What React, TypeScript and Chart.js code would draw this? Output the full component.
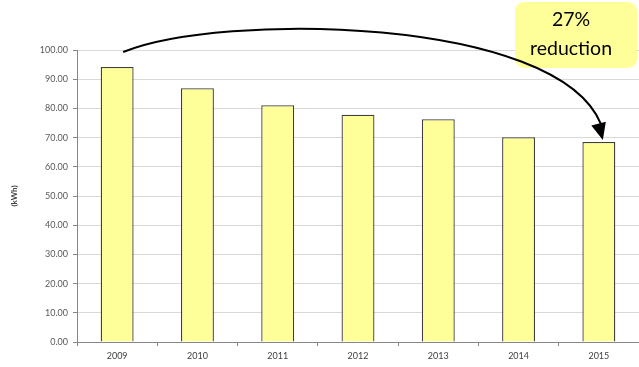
import React, { useEffect, useRef } from "react";
import { Chart, registerables } from "chart.js";

Chart.register(...registerables);

// Annual energy use per year (kWh)
const years = ["2009", "2010", "2011", "2012", "2013", "2014", "2015"];
const consumption = [94.2, 86.9, 81.1, 77.8, 76.3, 70.1, 68.5];
const yMin = 0;
const yMax = 100;
const yStep = 10;
const calloutLines = ["27%", "reduction"];

const FONT = "Lato, 'Open Sans', sans-serif";

// Callout box, then the curved arrow from the first year to the last on top of it
const reductionCallout = {
  id: "reductionCallout",
  afterDraw(chart: any) {
    const ctx = chart.ctx;
    const xs = chart.scales.x;
    const ys = chart.scales.y;
    const last = consumption.length - 1;

    ctx.save();

    // callout box
    const bxl = 515;
    const bxt = 2;
    const bw = 122;
    const bh = 66;
    ctx.fillStyle = "#FFFF99";
    ctx.beginPath();
    (ctx as any).roundRect(bxl, bxt, bw, bh, 9);
    ctx.fill();

    ctx.fillStyle = "#000";
    ctx.font = `19.5px ${FONT}`;
    ctx.textAlign = "center";
    ctx.textBaseline = "middle";
    ctx.fillText(calloutLines[0], 571, 20);
    ctx.fillText(calloutLines[1], 571, 49);

    // curved arrow
    const sx = xs.getPixelForValue(0) + 6;
    const sy = ys.getPixelForValue(99.3);
    const tipX = xs.getPixelForValue(last) + 4;
    const tipY = ys.getPixelForValue(consumption[last]) - 2;
    const headLen = 17;
    const headHalf = 7.5;

    const ex = tipX - 2;
    const ey = tipY - headLen + 1;
    const c1x = sx + 97;
    const c1y = ys.top - 38;
    const c2x = ex - 44;
    const c2y = ys.top - 34;

    ctx.strokeStyle = "#000";
    ctx.fillStyle = "#000";
    ctx.lineWidth = 2;
    ctx.beginPath();
    ctx.moveTo(sx, sy);
    ctx.bezierCurveTo(c1x, c1y, c2x, c2y, ex, ey);
    ctx.stroke();

    // arrow head along the end tangent
    const ang = Math.atan2(tipY - ey, tipX - ex) * 0.5 + Math.atan2(ey - c2y, ex - c2x) * 0.5;
    const bx = tipX - headLen * Math.cos(ang);
    const by = tipY - headLen * Math.sin(ang);
    const px = -Math.sin(ang) * headHalf;
    const py = Math.cos(ang) * headHalf;
    ctx.beginPath();
    ctx.moveTo(tipX, tipY);
    ctx.lineTo(bx + px, by + py);
    ctx.lineTo(bx - px, by - py);
    ctx.closePath();
    ctx.fill();

    ctx.restore();
  },
};

export default function App() {
  const ref = useRef<HTMLCanvasElement | null>(null);

  useEffect(() => {
    if (!ref.current) return;
    const chart = new Chart(ref.current, {
      type: "bar",
      data: {
        labels: years,
        datasets: [
          {
            data: consumption,
            backgroundColor: "#FFFF99",
            borderColor: "#3f3f3f",
            borderWidth: 1.3,
            borderSkipped: "bottom",
            categoryPercentage: 1,
            barPercentage: 0.41,
          },
        ],
      },
      options: {
        responsive: false,
        maintainAspectRatio: false,
        animation: false,
        layout: { padding: { top: 50, right: 0, left: 0, bottom: 0 } },
        plugins: {
          legend: { display: false },
          tooltip: { enabled: false },
        },
        scales: {
          x: {
            grid: {
              display: true,
              drawOnChartArea: false,
              drawTicks: true,
              tickLength: 4,
              color: "#868686",
              offset: true,
            },
            border: { color: "#868686" },
            ticks: {
              font: { family: FONT, size: 9 },
              color: "#404040",
              padding: 5,
            },
            afterFit: (s: any) => {
              s.height = 25;
            },
          },
          y: {
            min: yMin,
            max: yMax,
            ticks: {
              stepSize: yStep,
              callback: (v: any) => Number(v).toFixed(2),
              font: { family: FONT, size: 9 },
              color: "#595959",
              padding: 5,
            },
            grid: {
              color: "#d9d9d9",
              tickColor: "#868686",
              tickLength: 4,
            },
            border: { color: "#868686" },
            title: {
              display: true,
              text: "(kWh)",
              font: { family: FONT, size: 8, weight: "bold" },
              color: "#404040",
              padding: { top: 10, bottom: 0 },
            },
            afterFit: (s: any) => {
              s.width = 77;
            },
          },
        },
      },
      plugins: [reductionCallout],
    });
    return () => chart.destroy();
  }, []);

  return (
    <div style={{ position: "absolute", left: 0, top: 0, width: 639, height: 367 }}>
      <canvas ref={ref} width={639} height={367} style={{ width: 639, height: 367 }} />
    </div>
  );
}
